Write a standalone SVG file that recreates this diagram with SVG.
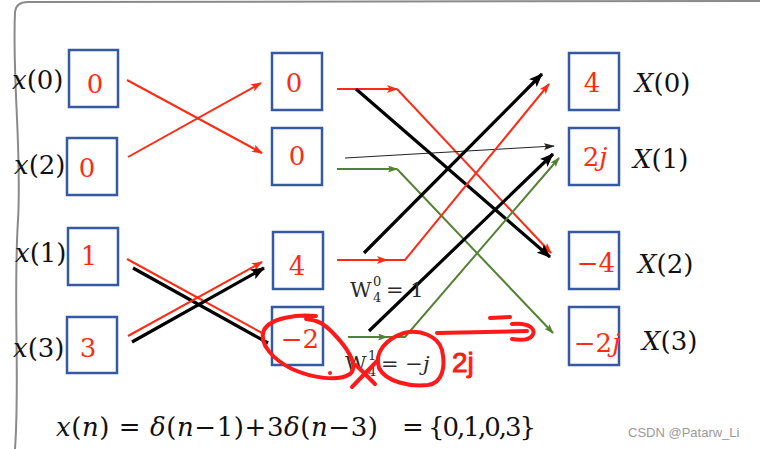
<svg xmlns="http://www.w3.org/2000/svg" width="760" height="449" viewBox="0 0 760 449">
<style>
.box{fill:#fff;stroke:#3559a3;stroke-width:2.5}
.num{font-family:"DejaVu Serif",serif;font-size:26px;fill:#ff2a14;text-anchor:middle}
.lbl{font-family:"DejaVu Serif",serif;font-size:26px;fill:#111}
.it{font-style:italic}
.r{stroke:#ff2a14;stroke-width:2;fill:none}
.k{stroke:#000;stroke-width:3.2;fill:none}
.kt{stroke:#222;stroke-width:1;fill:none}
.g{stroke:#548235;stroke-width:2;fill:none}
.ink{stroke:#ff1a1a;stroke-width:4;fill:none;stroke-linecap:round;stroke-linejoin:round}
.w{font-family:"DejaVu Serif",serif;fill:#2a2a2a}
</style>
<defs>
<marker id="ar" markerUnits="userSpaceOnUse" markerWidth="11" markerHeight="8" refX="10" refY="4" orient="auto"><path d="M0,0 L11,4 L0,8 L2.5,4 z" fill="#ff2a14"/></marker>
<marker id="ak" markerUnits="userSpaceOnUse" markerWidth="14" markerHeight="11" refX="13" refY="5.5" orient="auto"><path d="M0,0 L14,5.5 L0,11 L3,5.5 z" fill="#000"/></marker>
<marker id="ag" markerUnits="userSpaceOnUse" markerWidth="10" markerHeight="7" refX="9" refY="3.5" orient="auto"><path d="M0,0 L10,3.5 L0,7 L2,3.5 z" fill="#548235"/></marker>
<marker id="at" markerUnits="userSpaceOnUse" markerWidth="11" markerHeight="7" refX="10" refY="3.5" orient="auto"><path d="M0,0 L11,3.5 L0,7 L2,3.5 z" fill="#222"/></marker>
</defs>
<rect width="760" height="449" fill="#fff"/>
<path d="M15,449 C20,380 13,300 18,220 C22,150 12,80 15,12 Q16,2 28,2 L760,1" fill="none" stroke="#8a8a8a" stroke-width="2"/>

<g id="connectors">
<path class="r" d="M127,80 L262,153" marker-end="url(#ar)"/>
<path class="r" d="M128,157 L261,83" marker-end="url(#ar)"/>
<path class="r" d="M127,259 L262,333"/>
<path class="k" d="M133,268 L268,343"/>
<path class="r" d="M128,336 L262,262" marker-end="url(#ar)"/>
<path class="k" d="M132,342 L264,268" marker-end="url(#ak)"/>

<path class="r" d="M337,89 L397,89" marker-end="url(#ar)"/>
<path class="r" d="M397,89 L551,253" marker-end="url(#ar)"/>
<path class="k" d="M356,89 L550,257" marker-end="url(#ak)"/>
<path class="kt" d="M345,158 L554,146" marker-end="url(#at)"/>
<path class="g" d="M337,169 L397,169" marker-end="url(#ag)"/>
<path class="g" d="M397,169 L553,333" marker-end="url(#ag)"/>
<path class="k" d="M364,253 L542,74" marker-end="url(#ak)"/>
<path class="r" d="M337,260 L387,260" marker-end="url(#ar)"/>
<path class="r" d="M385,260 L405,260 L549,84" marker-end="url(#ar)"/>
<path class="k" d="M369,331 L553,154" marker-end="url(#ak)"/>
<path class="g" d="M348,337 L387,337" marker-end="url(#ag)"/>
<path class="g" d="M385,337 L405,337 L559,158" marker-end="url(#ag)"/>
</g>

<g id="x0"><rect class="box" x="69" y="50" width="49" height="57"/><text class="num" x="95" y="93">0</text><text class="lbl" x="12" y="89"><tspan class="it">x</tspan>(0)</text></g>
<g id="x2"><rect class="box" x="67" y="138" width="50" height="57"/><text class="num" x="87" y="177">0</text><text class="lbl" x="14" y="174"><tspan class="it">x</tspan>(2)</text></g>
<g id="x1"><rect class="box" x="68" y="228" width="50" height="57"/><text class="num" x="89" y="265">1</text><text class="lbl" x="15" y="262"><tspan class="it">x</tspan>(1)</text></g>
<g id="x3"><rect class="box" x="67" y="317" width="50" height="56"/><text class="num" x="88" y="357">3</text><text class="lbl" x="13" y="357"><tspan class="it">x</tspan>(3)</text></g>

<g id="m0"><rect class="box" x="272" y="53" width="50" height="57"/><text class="num" x="294" y="92">0</text></g>
<g id="m1"><rect class="box" x="272" y="128" width="50" height="57"/><text class="num" x="297" y="165">0</text></g>
<g id="m2"><rect class="box" x="273" y="232" width="50" height="57"/><text class="num" x="297" y="275">4</text></g>
<g id="m3"><rect class="box" x="272" y="307" width="51" height="58"/><text class="num" x="300" y="348">−2</text></g>

<g id="X0"><rect class="box" x="569" y="53" width="50" height="57"/><text class="num" x="592" y="92">4</text><text class="lbl" x="635" y="92"><tspan class="it">X</tspan>(0)</text></g>
<g id="X1"><rect class="box" x="569" y="128" width="50" height="57"/><text class="num" x="595" y="166">2<tspan class="it">j</tspan></text><text class="lbl" x="633" y="168"><tspan class="it">X</tspan>(1)</text></g>
<g id="X2"><rect class="box" x="569" y="232" width="50" height="57"/><text class="num" x="596" y="272">−4</text><text class="lbl" x="638" y="273"><tspan class="it">X</tspan>(2)</text></g>
<g id="X3"><rect class="box" x="569" y="307" width="50" height="58"/><text class="num" x="597" y="352">−2<tspan class="it">j</tspan></text><text class="lbl" x="642" y="350"><tspan class="it">X</tspan>(3)</text></g>

<g id="w0"><text class="w" x="350" y="297" font-size="21">W</text><text class="w" x="373" y="286" font-size="13">0</text><text class="w" x="373" y="302" font-size="13">4</text><text class="w" x="386" y="297" font-size="21">= 1</text></g>
<g id="w1"><text class="w" x="345" y="371" font-size="21">W</text><text class="w" x="368" y="360" font-size="13">1</text><text class="w" x="368" y="376" font-size="13">4</text><text class="w" x="381" y="371" font-size="21">= −<tspan class="it">j</tspan></text></g>

<g id="annotations">
<path class="ink" d="M316,316 C298,314 270,318 264,330 C258,344 274,360 292,369 C312,378 338,382 350,374 C360,366 346,346 332,332 C324,324 318,320 306,319"/>
<circle cx="330" cy="373" r="2" fill="#ff1a1a"/>
<path class="ink" d="M352,387 L377,361 M356,365 L375,384"/>
<path class="ink" d="M404,333 C420,329 438,336 442,350 C446,368 442,383 428,385 C410,387 386,382 379,368 C374,352 386,339 404,333"/>
<path class="ink" d="M437,333 L527,331 M490,318 L510,317 M512,324 C530,322 537,330 532,336 C528,341 518,340 512,339"/>
<text x="452" y="372" font-family="Liberation Sans, sans-serif" font-size="28" fill="#ff1a1a" stroke="#ff1a1a" stroke-width="1">2j</text>
</g>

<g id="equation">
<text class="lbl" x="56" y="436" font-size="25" textLength="322" lengthAdjust="spacing"><tspan class="it">x</tspan>(<tspan class="it">n</tspan>) = <tspan class="it">δ</tspan>(<tspan class="it">n</tspan>−1)+3<tspan class="it">δ</tspan>(<tspan class="it">n</tspan>−3)</text>
<text class="lbl" x="402" y="436" font-size="25" textLength="134" lengthAdjust="spacing">= {0,1,0,3}</text>
</g>
<text x="628" y="437" font-family="Liberation Sans, sans-serif" font-size="13" fill="#9a9a9a">CSDN @Patarw_Li</text>
</svg>
